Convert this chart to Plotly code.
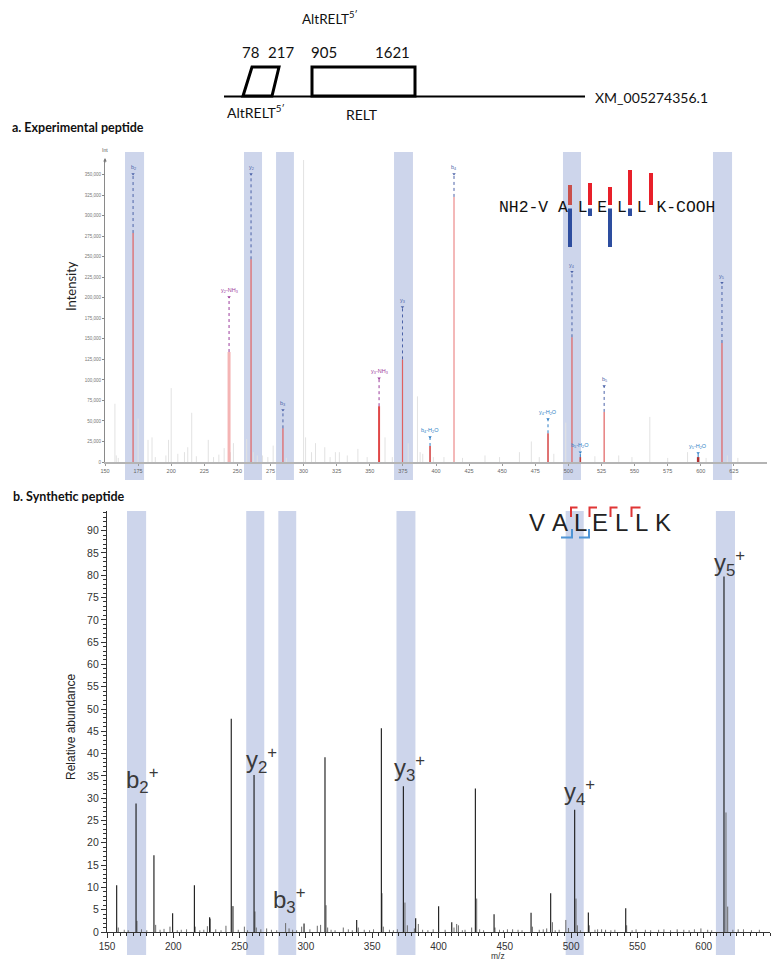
import re
import plotly.graph_objects as go

# The page body has an 8 px default margin, so the figure is made 8 px smaller
# and every pixel position below is expressed in window pixels, shifted by 8.
OFF = 8
W, H = 780 - OFF, 964 - OFF


def px(x):
    return (x - OFF) / W


def py(y):
    return 1 - (y - OFF) / H


# ------------------------------------------------------------------ data
# Panel a: annotated fragment ions of the experimental peptide
a_ion_labels = ["b2", "y2-NH3", "y2", "b3", "y3-NH3", "y3", "b4-H2O", "b4",
                "y4-H2O", "y4", "b5-H2O", "b5", "y5-H2O", "y5"]
a_ion_mz = [171.2, 243.7, 260.3, 284.4, 357.0, 374.7, 395.5, 413.6,
            484.6, 502.7, 509.0, 527.0, 598.0, 616.0]
a_ion_int = [279000, 134000, 247000, 41000, 68000, 125000, 19500, 323000,
             35000, 152000, 6000, 61000, 6000, 145000]
# Panel a: unannotated (grey) peaks
a_other_mz = [157.5, 158.5, 160, 175.0, 182.5, 185.5, 188, 196, 198, 200, 205, 210,
              212.5, 215.5, 219, 228, 232, 236, 240, 244.8, 247, 257, 262, 265, 269,
              273, 277, 287, 300, 301.5, 306, 309, 316, 320, 324, 327, 333, 341, 348,
              361.5, 367, 379, 386, 388, 390, 398, 406, 420, 437, 448, 463, 472, 478,
              489, 498, 520, 538, 548, 561.5, 575, 590, 604, 620, 628]
a_other_int = [71000, 8000, 5000, 53000, 27000, 30000, 6000, 8000, 27000, 90000, 10000,
               12000, 18000, 60000, 7000, 27000, 6000, 9000, 17000, 12000, 23000, 28000,
               12000, 8000, 8000, 6000, 20000, 5000, 400000, 30000, 12000, 23000, 18000,
               6000, 12000, 12000, 8000, 16000, 6000, 30000, 6000, 23000, 80000, 12000,
               10000, 6000, 6000, 5000, 8000, 6000, 12000, 25000, 6000, 10000, 48000,
               7000, 8000, 6000, 55000, 5000, 12000, 5000, 8000, 5000]
a_yticks = list(range(0, 350001, 25000))
a_xticks = list(range(150, 626, 25))

# Panel b: synthetic peptide spectrum (relative abundance)
b_main_mz = [157.3, 171.9, 185.4, 199.5, 215.9, 227.4, 243.7, 260.9, 298.6, 314.4,
             338.3, 356.9, 373.5, 382.8, 400.1, 410.0, 427.8, 441.9, 469.8, 484.6,
             502.7, 513.0, 541.2, 615.3]
b_main_ab = [10.5, 28.8, 17.2, 4.2, 10.5, 3.3, 47.8, 35.2, 1.9, 39.2,
             2.7, 45.7, 32.7, 3.1, 5.8, 2.2, 32.2, 4.0, 4.3, 8.7,
             27.4, 4.4, 5.3, 79.7]
b_iso_mz = [158.5, 172.6, 186.7, 197.5, 216.5, 225.7, 227.9, 239.7, 244.5, 245.2,
            253.6, 261.6, 262.6, 270.4, 284.7, 287.3, 296.8, 308.6, 311.1, 315.2,
            316.4, 328.2, 339.5, 357.4, 358.4, 374.7, 376.5, 381.8, 384.8, 411.7,
            413.7, 415.0, 425.0, 428.8, 442.6, 455.9, 470.8, 481.6, 485.9, 496.0,
            498.0, 503.7, 504.7, 513.7, 523.0, 526.0, 541.9, 580.0, 597.9, 616.8,
            618.1, 626.0]
b_iso_ab = [1.0, 2.5, 1.6, 1.2, 1.2, 1.3, 3.0, 1.4, 5.8, 5.8,
            1.2, 4.6, 1.0, 0.8, 2.0, 0.8, 1.2, 1.4, 1.6, 6.0,
            1.0, 1.0, 1.0, 8.7, 1.2, 6.6, 1.5, 0.8, 1.8, 1.0,
            1.8, 1.5, 1.0, 7.5, 1.0, 0.6, 1.2, 0.8, 2.2, 2.7,
            0.9, 7.5, 1.5, 1.5, 0.6, 0.5, 1.5, 0.6, 0.8, 26.8,
            5.7, 0.6]
b_noise_mz = [163, 166, 176, 180, 190, 193, 203, 206, 210, 220, 223, 232, 236, 249,
              256, 266, 274, 278, 290, 293, 303, 319, 322, 332, 335, 344, 348, 351,
              363, 366, 369, 388, 392, 396, 405, 418, 420, 431, 434, 446, 449, 452,
              460, 463, 476, 479, 488, 491, 507, 518, 520, 530, 533, 546, 549, 556,
              560, 566, 570, 575, 585, 589, 593, 603, 606, 622, 630, 636, 642]
b_noise_ab = [0.5, 0.4, 0.6, 0.4, 0.5, 0.7, 0.4, 0.5, 0.6, 0.4, 0.5, 0.6, 0.4, 0.5,
              0.4, 0.6, 0.5, 0.4, 0.5, 0.4, 0.6, 0.5, 0.4, 0.6, 0.4, 0.5, 0.4, 0.6,
              0.5, 0.4, 0.6, 0.5, 0.4, 0.6, 0.5, 0.4, 0.5, 0.6, 0.4, 0.5, 0.4, 0.6,
              0.5, 0.4, 0.5, 0.6, 0.4, 0.5, 0.4, 0.5, 0.6, 0.4, 0.5, 0.4, 0.6, 0.5,
              0.4, 0.5, 0.6, 0.4, 0.5, 0.4, 0.6, 0.5, 0.4, 0.5, 0.6, 0.4, 0.5]
b_ion_labels = ["b2+", "y2+", "b3+", "y3+", "y4+", "y5+"]
b_xticks = list(range(150, 601, 50))

# Highlighted m/z windows (shared by both panels)
hl_lo = [165.1, 255.0, 279.2, 368.3, 495.9, 609.2]
hl_hi = [179.5, 268.6, 292.7, 382.6, 509.5, 623.6]

# Gene model
exon_starts = [78, 905]
exon_ends = [217, 1621]


# ------------------------------------------------------------------ helpers
def stems(mz, h):
    xs, ys = [], []
    for m, v in zip(mz, h):
        xs += [m, m, None]
        ys += [0, v, None]
    return xs, ys


def ion_html(lbl):
    out = re.sub(r"(\d+)", r"<sub>\1</sub>", lbl.rstrip("+"))
    if lbl.endswith("+"):
        out += "<sup>+</sup>"
    return out


def note(x, y, text, size, color="#111", family="Lato", xanchor="center",
         yanchor="middle", **kw):
    return dict(x=px(x), y=py(y), xref="paper", yref="paper", text=text,
                showarrow=False, xanchor=xanchor, yanchor=yanchor,
                font=dict(size=size, color=color, family=family), **kw)


fig = go.Figure()

# ------------------------------------------------------------------ panel a
ox, oy = stems(a_other_mz, a_other_int)
fig.add_trace(go.Scatter(x=ox, y=oy, mode="lines", line=dict(color="#e2e2e2", width=1),
                         xaxis="x", yaxis="y", hoverinfo="skip", showlegend=False))

COL_B = "#4c63a8"
COL_NH3 = "#9b3b9b"
COL_H2O = "#2f7fc6"
a_label_top = [351000, 201000, 351000, 63400, 102000, 189000, 30500, 351000,
               52400, 231700, 12000, 92700, 11000, 218300]
a_peak_style = {
    "y2-NH3": ("#f4b4b4", 3), "y3-NH3": ("#e04848", 2), "b4-H2O": ("#d44848", 1.6),
    "y4-H2O": ("#d85050", 1.6), "b5-H2O": ("#c04040", 1.6), "y5-H2O": ("#b03030", 2.5),
    "b4": ("#ec8a8a", 1.2),
}
tri_x, tri_y, tri_c = [], [], []
annotations = []
for lbl, m, v, top in zip(a_ion_labels, a_ion_mz, a_ion_int, a_label_top):
    col, wd = a_peak_style.get(lbl, ("#e06060", 1.2))
    fig.add_trace(go.Scatter(x=[m, m], y=[0, v], mode="lines", line=dict(color=col, width=wd),
                             xaxis="x", yaxis="y", hoverinfo="skip", showlegend=False))
    lc = COL_NH3 if "NH3" in lbl else (COL_H2O if "H2O" in lbl else COL_B)
    fig.add_trace(go.Scatter(x=[m, m], y=[v, top], mode="lines",
                             line=dict(color=lc, width=1, dash="dot"),
                             xaxis="x", yaxis="y", hoverinfo="skip", showlegend=False))
    tri_x.append(m)
    tri_y.append(top)
    tri_c.append(lc)
    annotations.append(dict(x=m, y=top, xref="x", yref="y", text=ion_html(lbl),
                            showarrow=False, xanchor="center", yanchor="bottom", yshift=1,
                            font=dict(size=5.5, color=lc, family="Liberation Sans")))
fig.add_trace(go.Scatter(x=tri_x, y=tri_y, mode="markers",
                         marker=dict(symbol="triangle-down", size=3, color=tri_c),
                         xaxis="x", yaxis="y", hoverinfo="skip", showlegend=False))

# ------------------------------------------------------------------ panel b
nx, ny = stems(b_noise_mz, b_noise_ab)
fig.add_trace(go.Scatter(x=nx, y=ny, mode="lines", line=dict(color="#555", width=0.8),
                         xaxis="x2", yaxis="y2", hoverinfo="skip", showlegend=False))
ix, iy = stems(b_iso_mz, b_iso_ab)
fig.add_trace(go.Scatter(x=ix, y=iy, mode="lines", line=dict(color="#6a6a6a", width=1),
                         xaxis="x2", yaxis="y2", hoverinfo="skip", showlegend=False))
mx, my = stems(b_main_mz, b_main_ab)
fig.add_trace(go.Scatter(x=mx, y=my, mode="lines", line=dict(color="#151515", width=1.1),
                         xaxis="x2", yaxis="y2", hoverinfo="skip", showlegend=False))

b_label_pos = [(177.1, 34.1), (266.8, 38.6), (288.0, 7.2), (378.4, 36.8),
               (506.5, 31.4), (619.6, 82.7)]
for lbl, (lx, ly) in zip(b_ion_labels, b_label_pos):
    annotations.append(dict(x=lx, y=ly, xref="x2", yref="y2", text=ion_html(lbl),
                            showarrow=False, xanchor="center", yanchor="middle",
                            font=dict(size=24, color="#3a3a3a", family="Liberation Sans")))

# ------------------------------------------------------------------ highlight windows
shapes = []
for lo, hi in zip(hl_lo, hl_hi):
    shapes.append(dict(type="rect", xref="x", yref="paper", x0=lo, x1=hi,
                       y0=py(480), y1=py(152), fillcolor="#cdd5eb",
                       line=dict(width=0), layer="below"))
    shapes.append(dict(type="rect", xref="x2", yref="paper", x0=lo, x1=hi,
                       y0=py(955), y1=py(511), fillcolor="#cdd5eb",
                       line=dict(width=0), layer="below"))

# ------------------------------------------------------------------ gene model diagram
shapes.append(dict(type="line", xref="paper", yref="paper", x0=px(224), x1=px(585),
                   y0=py(96.5), y1=py(96.5), line=dict(color="black", width=2)))
shapes.append(dict(type="path", xref="paper", yref="paper",
                   path=f"M {px(243)},{py(96)} L {px(252)},{py(67)} L {px(279)},{py(67)} "
                        f"L {px(272)},{py(96)} Z",
                   line=dict(color="black", width=3)))
shapes.append(dict(type="rect", xref="paper", yref="paper", x0=px(312), x1=px(415),
                   y0=py(96), y1=py(67), line=dict(color="black", width=3)))

num_pos = [250, 281, 324, 392]
num_txt = [exon_starts[0], exon_ends[0], exon_starts[1], exon_ends[1]]
for xx, t in zip(num_pos, num_txt):
    annotations.append(note(xx, 52.5, str(t), 15))
annotations += [
    note(330, 18, "AltRELT<sup>5′</sup>", 13.5),
    note(256, 112, "AltRELT<sup>5′</sup>", 14),
    note(362, 114, "RELT", 14),
    note(593, 97.5, "XM_005274356.1", 14, xanchor="left"),
    note(10, 127, "<b>a. Experimental peptide</b>", 12.5, xanchor="left"),
    note(11, 496, "<b>b. Synthetic peptide</b>", 12.5, xanchor="left"),
    note(71, 286, "Intensity", 13, color="#222", textangle=-90),
    note(71, 727, "Relative abundance", 12, color="#222", family="Liberation Sans",
         textangle=-90),
    note(498, 956, "m/z", 8.5, color="#333", family="Liberation Sans"),
    note(105, 155, "Int", 5, color="#555", family="Liberation Sans", yanchor="bottom"),
    dict(x=px(105), y=py(158), xref="paper", yref="paper", text="", showarrow=True,
         ax=0, ay=6, arrowhead=2, arrowsize=0.7, arrowwidth=1, arrowcolor="#777"),
    note(607, 207, "NH2-V A L E L L K-COOH", 16.4, family="Liberation Mono"),
]

# fragment bars over the monospace sequence (panel a)
bar_x = [570, 590, 610, 630, 651]
bar_red_top = [185, 183, 187, 170, 173]
bar_blue_bot = [247, 216, 247, 216, None]
for i, (bx, rt, bb) in enumerate(zip(bar_x, bar_red_top, bar_blue_bot)):
    rc = "#c9504c" if i == 0 else "#e8202a"
    shapes.append(dict(type="rect", xref="paper", yref="paper", x0=px(bx - 2), x1=px(bx + 2),
                       y0=py(205), y1=py(rt), fillcolor=rc, line=dict(width=0)))
    if bb is not None:
        shapes.append(dict(type="rect", xref="paper", yref="paper", x0=px(bx - 2), x1=px(bx + 2),
                           y0=py(bb), y1=py(208.5), fillcolor="#2d4d9f", line=dict(width=0)))

# letters of the synthetic peptide (panel b)
seq_letters = list("VALELLK")
seq_x = [537, 560, 580, 600, 621, 641, 663]
for ch, xx in zip(seq_letters, seq_x):
    annotations.append(note(xx, 522, ch, 24, color="#222", family="Liberation Sans"))
RED_BR = "#e03535"
BLUE_BR = "#4f95d6"
for bx, bw in zip([571, 589.5, 610.5, 631.5], [6.5, 7.5, 7, 9]):
    shapes.append(dict(type="path", xref="paper", yref="paper",
                       path=f"M {px(bx)},{py(517)} L {px(bx)},{py(507.5)} L {px(bx + bw)},{py(507.5)}",
                       line=dict(color=RED_BR, width=2)))
for bx, bw in zip([572, 589], [11, 10]):
    shapes.append(dict(type="path", xref="paper", yref="paper",
                       path=f"M {px(bx - bw)},{py(537.5)} L {px(bx)},{py(537.5)} L {px(bx)},{py(529)}",
                       line=dict(color=BLUE_BR, width=2)))

# ------------------------------------------------------------------ layout
fig.update_layout(
    template="none",
    width=W, height=H, autosize=False,
    margin=dict(l=0, r=0, t=0, b=0, pad=0, autoexpand=False),
    paper_bgcolor="white", plot_bgcolor="rgba(0,0,0,0)",
    showlegend=False,
    shapes=shapes, annotations=annotations,
    xaxis=dict(domain=[px(105), px(767)], range=[150, 650], anchor="y", automargin=False,
               showline=True, linecolor="#b4b4b4", linewidth=2, ticks="outside",
               ticklen=2, tickcolor="#999", tickvals=a_xticks,
               tickfont=dict(size=5.5, color="#666", family="Liberation Sans"),
               showgrid=False, zeroline=False),
    yaxis=dict(domain=[py(462), py(160)], range=[0, 368000], anchor="x", automargin=False,
               showline=True, linecolor="#8a8a8a", linewidth=1, ticks="outside",
               ticklen=2, tickcolor="#888", tickvals=a_yticks, tickformat=",d",
               tickfont=dict(size=4.5, color="#777", family="Liberation Sans"),
               showgrid=False, zeroline=False),
    xaxis2=dict(domain=[px(107), px(770)], range=[150, 650], anchor="y2", automargin=False,
                showline=True, linecolor="#333", linewidth=1.3, ticks="outside",
                ticklen=5, tickcolor="#333", tickvals=b_xticks,
                minor=dict(dtick=5, tick0=150, ticks="outside", ticklen=2.5, tickcolor="#333"),
                tickfont=dict(size=10, color="#333", family="Liberation Sans"),
                showgrid=False, zeroline=False),
    yaxis2=dict(domain=[py(932), py(511)], range=[0, 94.4], anchor="x2", automargin=False,
                showline=True, linecolor="#333", linewidth=1.3, ticks="outside",
                ticklen=5, tickcolor="#333", dtick=5, tick0=0,
                minor=dict(dtick=1, ticks="outside", ticklen=2.5, tickcolor="#333"),
                tickfont=dict(size=10.5, color="#333", family="Liberation Sans"),
                showgrid=False, zeroline=False),
)

fig.write_html("out.html")
